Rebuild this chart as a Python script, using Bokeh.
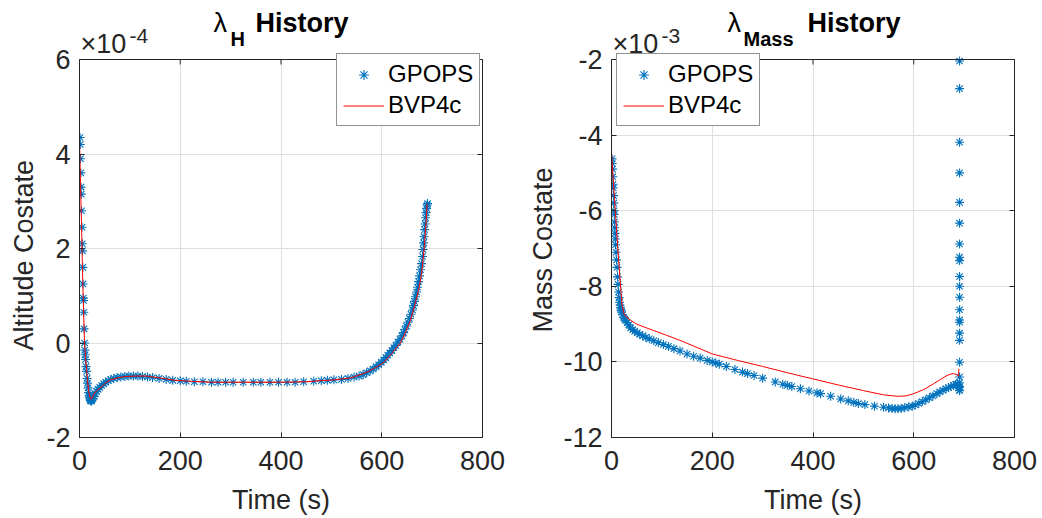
from bokeh.plotting import figure
from bokeh.models import (Range1d, FixedTicker, CustomJSTickFormatter, LinearAxis,
                          Label, Legend, LegendItem, BoxAnnotation, Grid, Title)
from bokeh.layouts import row
from bokeh.embed import file_html
from bokeh.resources import INLINE

# ---------------- data ----------------
# Left panel: altitude costate (values in units of 1e-4)
H_SCALE = 1e-4
bvp_h_t = [0, 2, 4, 6, 8, 10, 12, 14, 16, 18, 20, 22, 24, 27, 30, 35, 43, 50, 61, 75, 90, 110,
           133, 160, 190, 220, 260, 300, 350, 400, 450, 505, 538, 566, 585, 604, 620, 637, 647,
           657, 665, 673, 678, 682, 685, 688, 690]
bvp_h_v = [4.3, 3.4, 2.5, 1.5, 0.7, 0.0, -0.3, -0.55, -0.8, -1.0, -1.12, -1.18, -1.18, -1.12,
           -1.06, -1.0, -0.94, -0.86, -0.78, -0.74, -0.71, -0.7, -0.7, -0.74, -0.79, -0.81, -0.83,
           -0.83, -0.83, -0.83, -0.82, -0.78, -0.74, -0.64, -0.54, -0.41, -0.22, 0.0, 0.22, 0.48,
           0.78, 1.11, 1.4, 1.75, 2.1, 2.55, 2.95]

gp_h_t = [1, 1.5, 2, 2.5, 3, 3.5, 4, 5, 5.5, 6, 6.5, 7, 7.5, 8, 8.5, 9, 10, 10.5, 11, 12, 13, 14,
          15, 16, 17, 18, 19, 20, 21, 22, 23, 24, 25, 27, 29, 31, 34, 37, 40, 44, 48, 52, 57, 62,
          68, 75, 82, 90, 98, 107, 116, 125, 135, 145, 158, 172, 185, 200, 212, 228, 245, 262,
          275, 290, 305, 325, 345, 360, 378, 395, 412, 428, 445, 465, 480, 492, 505, 520, 533,
          545, 555, 563, 570, 577, 583, 589, 594, 599, 604, 608, 612, 616, 620, 624, 628, 632,
          636, 640, 643, 646, 649, 652, 655, 658, 661, 663, 665, 667, 669, 671, 673, 675, 677,
          679, 681, 682, 683, 684, 685, 686, 687, 688, 689, 690, 691]
gp_h_v = [4.35, 4.2, 3.9, 3.6, 3.3, 3.15, 2.8, 2.45, 2.1, 1.95, 1.6, 1.25, 0.95, 0.9, 0.65, 0.3,
          0.0, -0.15, -0.25, -0.35, -0.5, -0.6, -0.75, -0.85, -0.95, -1.05, -1.12, -1.15, -1.2,
          -1.22, -1.23, -1.22, -1.2, -1.17, -1.13, -1.08, -1.02, -0.98, -0.94, -0.9, -0.86,
          -0.83, -0.8, -0.77, -0.75, -0.73, -0.72, -0.71, -0.7, -0.7, -0.7, -0.71, -0.72, -0.73,
          -0.75, -0.77, -0.79, -0.8, -0.81, -0.82, -0.82, -0.83, -0.83, -0.83, -0.83, -0.83,
          -0.83, -0.83, -0.83, -0.83, -0.83, -0.83, -0.82, -0.81, -0.8, -0.79, -0.78, -0.77,
          -0.75, -0.72, -0.7, -0.67, -0.63, -0.59, -0.55, -0.5, -0.46, -0.41, -0.36, -0.31,
          -0.26, -0.21, -0.16, -0.1, -0.05, 0.02, 0.08, 0.15, 0.22, 0.29, 0.36, 0.44, 0.52, 0.61,
          0.7, 0.79, 0.88, 0.98, 1.08, 1.18, 1.3, 1.42, 1.55, 1.68, 1.83, 1.98, 2.12, 2.25, 2.4,
          2.52, 2.65, 2.76, 2.85, 2.92, 2.95]

# Right panel: mass costate (values in units of 1e-3)
M_SCALE = 1e-3
bvp_m_t = [0, 3, 6, 9, 12, 15, 18, 21, 25, 30, 38, 50, 65, 84, 110, 140, 170, 200, 250, 300, 350,
           400, 450, 500, 540, 567, 585, 600, 620, 639, 655, 666, 674, 679, 684, 687, 689, 689.5]
bvp_m_v = [-4.45, -5.1, -5.7, -6.3, -6.9, -7.45, -8.0, -8.5, -8.73, -8.82, -8.9, -9.0, -9.08,
           -9.17, -9.3, -9.45, -9.62, -9.79, -9.96, -10.12, -10.29, -10.45, -10.61, -10.76,
           -10.87, -10.91, -10.9, -10.84, -10.73, -10.58, -10.45, -10.36, -10.32, -10.31, -10.33,
           -10.36, -10.38, -10.18]

gp_m_t = [1, 1.5, 2, 2.5, 3, 3.5, 4, 4.5, 5, 5.5, 6, 6.5, 7, 7.5, 8, 9, 10, 11, 12, 13, 14, 15,
          16, 17, 18, 19, 20, 22, 24, 26, 28, 31, 34, 38, 42, 46, 51, 56, 62, 68, 75, 84, 93, 103,
          113, 124, 136, 150, 163, 176, 190, 200, 207, 214, 228, 245, 260, 270, 283, 300, 325,
          340, 349, 358, 375, 392, 408, 415, 435, 455, 470, 481, 490, 503, 522, 540, 550, 557,
          563, 569, 575, 582, 590, 597, 603, 610, 617, 624, 631, 638, 646, 652, 658, 664, 669,
          674, 679, 683, 686, 688, 690, 691,
          691, 691, 691, 691, 691, 691, 691, 691, 691, 691, 691, 691, 691, 691, 691, 691, 691,
          691, 691, 691, 691, 691]
gp_m_v = [-4.63, -4.75, -4.9, -5.1, -5.3, -5.4, -5.6, -5.8, -6.0, -6.1, -6.3, -6.45, -6.6, -6.75,
          -6.9, -7.1, -7.3, -7.5, -7.75, -7.95, -8.15, -8.3, -8.42, -8.5, -8.57, -8.63, -8.68,
          -8.75, -8.82, -8.86, -8.9, -8.96, -9.02, -9.1, -9.15, -9.19, -9.23, -9.27, -9.31,
          -9.35, -9.39, -9.44, -9.49, -9.54, -9.59, -9.65, -9.71, -9.79, -9.85, -9.9, -9.96,
          -10.0, -10.03, -10.06, -10.12, -10.2, -10.27, -10.31, -10.36, -10.43, -10.53, -10.59,
          -10.62, -10.65, -10.71, -10.77, -10.82, -10.84, -10.91, -10.98, -11.03, -11.07, -11.1,
          -11.13, -11.17, -11.2, -11.22, -11.23, -11.24, -11.24, -11.23, -11.21, -11.19, -11.17,
          -11.14, -11.1, -11.05, -11.0, -10.95, -10.9, -10.84, -10.79, -10.75, -10.71, -10.68,
          -10.65, -10.62, -10.6, -10.6, -10.61, -10.68, -10.76,
          -2.04, -2.77, -4.19, -5.0, -5.78, -6.33, -6.88, -7.23, -7.32, -7.74, -8.0, -8.29,
          -8.62, -8.89, -8.95, -9.24, -9.43, -10.01, -10.4, -10.55, -10.65, -10.75]

x_ticks = [0, 200, 400, 600, 800]
h_ticks = [-2, 0, 2, 4, 6]
m_ticks = [-12, -10, -8, -6, -4, -2]

# ---------------- style ----------------
FONT = "Liberation Sans"
TXT = "#262626"
BLUE = "#0072BD"
RED = "#FF0000"
GRID = "#DFDFDF"
W, H = 521, 518
AX_TOP, AX_H, FRAME_W = 59, 378, 403   # MATLAB axes box: top pixel, height, width


def make_panel(left_border, t_gp, v_gp, t_bvp, v_bvp, scale, yticks, ylabel, ylabel_offset,
               ylabel_standoff, exp_text, title_sub, legend_xy, label_pos):
    xlo, xhi = x_ticks[0], x_ticks[-1]
    ylo, yhi = yticks[0] * scale, yticks[-1] * scale
    # the plotting frame extends up to the canvas top so that the title texts sit inside it
    ytop = yhi + (yhi - ylo) * AX_TOP / AX_H
    p = figure(width=W, height=H, output_backend="svg", toolbar_location=None, title=None,
               x_range=Range1d(xlo, xhi), y_range=Range1d(ylo, ytop))
    p.min_border_left = left_border
    p.min_border_right = W - left_border - FRAME_W
    p.min_border_top = 0
    p.min_border_bottom = H - AX_TOP - AX_H
    p.background_fill_color = "white"
    p.border_fill_color = "white"
    p.outline_line_color = None

    yvals = [t * scale for t in yticks]
    fmt = CustomJSTickFormatter(args=dict(s=scale), code="return String(Math.round(tick / s));")

    for ax in (p.xaxis[0], p.yaxis[0]):
        ax.major_label_text_font = FONT
        ax.major_label_text_font_size = "27px"
        ax.major_label_text_color = TXT
        ax.axis_label_text_font = FONT
        ax.axis_label_text_font_size = "27px"
        ax.axis_label_text_font_style = "normal"
        ax.axis_label_text_color = TXT
        ax.axis_line_color = TXT
        ax.major_tick_line_color = TXT
        ax.major_tick_in = 5
        ax.major_tick_out = 0
        ax.minor_tick_line_color = None
    p.xaxis.ticker = FixedTicker(ticks=x_ticks)
    p.yaxis.ticker = FixedTicker(ticks=yvals)
    p.yaxis.bounds = (ylo, yhi)
    p.yaxis.formatter = fmt
    p.xaxis.axis_label = "Time (s)"
    p.xaxis.major_label_standoff = 13
    p.xaxis.axis_label_standoff = 12
    p.yaxis.major_label_standoff = 9

    # y label as a left-side title so it can be centred on the axes box, not the frame
    p.add_layout(Title(text=ylabel, align="left", offset=ylabel_offset,
                       vertical_align="middle", standoff=ylabel_standoff, text_font=FONT,
                       text_font_size="27px", text_font_style="normal", text_color=TXT),
                 "left")

    # mirrored ticks on the right side, no labels
    rax = LinearAxis(ticker=FixedTicker(ticks=yvals), bounds=(ylo, yhi),
                     formatter=CustomJSTickFormatter(code="return '';"),
                     axis_line_color=TXT, major_tick_line_color=TXT,
                     major_tick_in=5, major_tick_out=0, minor_tick_line_color=None,
                     major_label_standoff=0)
    p.add_layout(rax, "right")

    # grid limited to the axes box
    p.xgrid.ticker = FixedTicker(ticks=x_ticks)
    p.ygrid.ticker = FixedTicker(ticks=yvals)
    p.xgrid.grid_line_color = GRID
    p.ygrid.grid_line_color = GRID
    if "cross_bounds" in Grid.properties():
        p.xgrid.cross_bounds = (ylo, yhi)
        p.ygrid.bounds = (ylo, yhi)
    else:
        p.xgrid.visible = False
        p.segment(x0=x_ticks[1:-1], x1=x_ticks[1:-1], y0=[ylo] * 3, y1=[yhi] * 3,
                  line_color=GRID, line_width=1, level="underlay")

    r_gp = p.scatter(t_gp, [v * scale for v in v_gp], marker="asterisk", size=9,
                     line_color=BLUE, line_width=1.1)
    r_bvp = p.line(t_bvp, [v * scale for v in v_bvp], line_color=RED, line_width=1)

    # axes box and top ticks
    p.add_layout(BoxAnnotation(left=xlo, right=xhi, bottom=ylo, top=yhi, fill_alpha=0,
                               line_color=TXT, line_width=1, line_alpha=1))
    p.ray(x=x_ticks, y=[yhi] * len(x_ticks), length=5, length_units="screen",
          angle=-90, angle_units="deg", line_color=TXT, line_width=1)

    legend = Legend(items=[LegendItem(label="GPOPS", renderers=[r_gp]),
                           LegendItem(label="BVP4c", renderers=[r_bvp])],
                    location=legend_xy, padding=6, spacing=3, margin=0,
                    glyph_width=41, glyph_height=25, label_height=25, label_standoff=4,
                    label_text_font=FONT, label_text_font_size="24px",
                    label_text_color="#000000", border_line_color=TXT,
                    border_line_width=1, background_fill_color="white",
                    background_fill_alpha=1.0)
    p.add_layout(legend, "center")

    # texts placed relative to the frame (screen units, y up from frame bottom)
    fb = AX_TOP + AX_H

    def lab(text, cx, cy, size, style="normal", color=TXT):
        shift = round(0.33 * size)
        p.add_layout(Label(x=cx - left_border, y=fb - (cy - shift), x_units="screen",
                           y_units="screen", text=text, text_font=FONT,
                           text_font_size=f"{size}px", text_font_style=style,
                           text_color=color, text_baseline="alphabetic", text_align="left"))

    lab("\u00d710", left_border + 1, 52, 27)
    lab(exp_text, left_border + 50, 42, 21)
    lx, sx, hx = label_pos
    lab("\u03bb", lx, 31, 27, color="#000000")
    lab(title_sub, sx, 45, 20, "bold", "#000000")
    lab("History", hx, 31, 27, "bold", "#000000")
    return p


p1 = make_panel(79, gp_h_t, gp_h_v, bvp_h_t, bvp_h_v, H_SCALE, h_ticks, "Altitude Costate", 87,
                8, "-4", "H", (257, 311), (213, 230, 255))
p2 = make_panel(90, gp_m_t, gp_m_v, bvp_m_t, bvp_m_v, M_SCALE, m_ticks, "Mass Costate", 105,
                4, "-3", "Mass", (5, 311), (727 - 521, 743 - 521, 807 - 521))

layout = row(p1, p2)
open("out.html", "w").write(file_html(layout, INLINE))
